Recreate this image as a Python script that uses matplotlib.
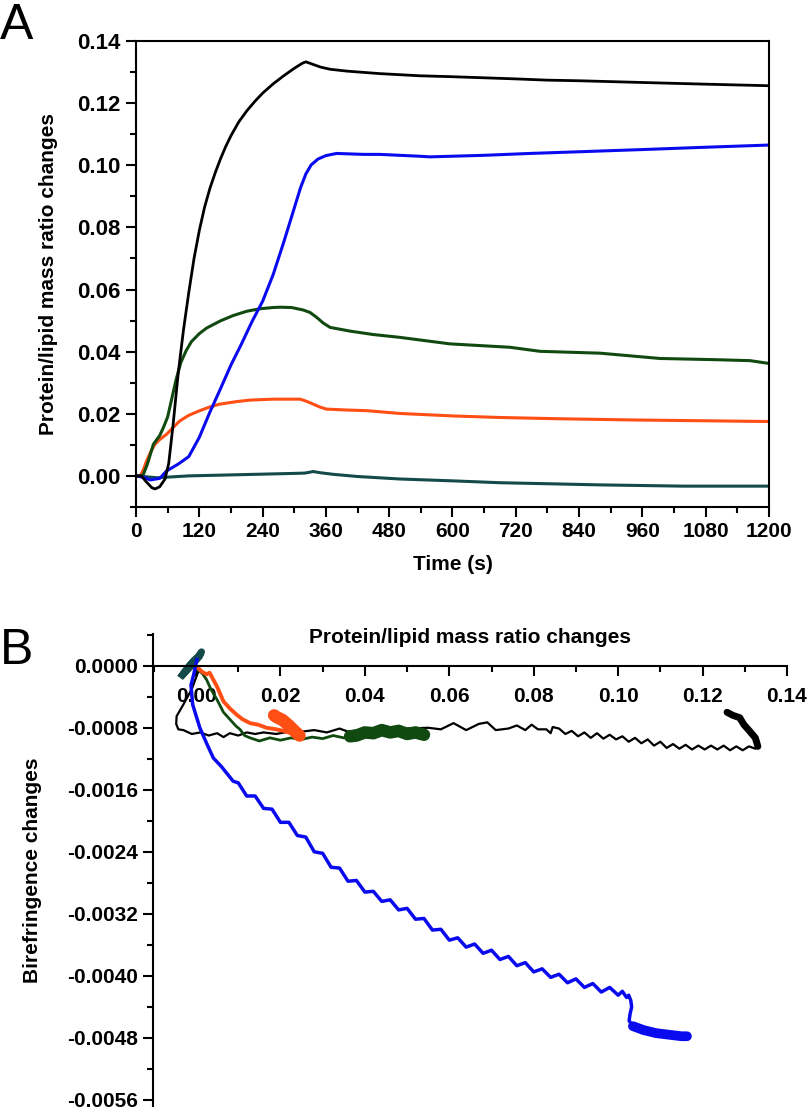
import matplotlib
matplotlib.use('Agg')
import matplotlib.pyplot as plt
from matplotlib.ticker import MultipleLocator, FormatStrFormatter

plt.rcParams['font.family'] = ['Liberation Sans', 'DejaVu Sans']
plt.rcParams['font.weight'] = 'bold'
plt.rcParams['axes.unicode_minus'] = False
Fontsize = 15

# ---- panel A: mass ratio vs time ----
black_t = [0, 10, 20, 30, 36, 45, 55, 62, 70, 80, 90, 100, 110, 120, 130, 140, 150, 160, 170, 180, 195, 210,
           225, 240, 260, 280, 300, 315, 322, 335, 350, 368, 400, 462, 538, 600, 720, 779, 840, 969, 1080, 1200]
black_v = [0, 0, -0.002, -0.0038, -0.0042, -0.0035, -0.001, 0.004, 0.016, 0.033, 0.047, 0.059, 0.070, 0.079,
           0.0865, 0.0925, 0.0975, 0.102, 0.106, 0.1095, 0.114, 0.1175, 0.1205, 0.1232, 0.1262, 0.1288,
           0.1312, 0.1328, 0.1333, 0.1325, 0.1316, 0.1309, 0.1303, 0.1295, 0.1288, 0.1285, 0.1278, 0.1274,
           0.1272, 0.1266, 0.1261, 0.1256]

blue_t = [0, 15, 27, 45, 58, 80, 100, 120, 140, 160, 180, 200, 220, 240, 260, 280, 300, 312, 322, 332, 345,
          360, 380, 431, 462, 538, 557, 660, 747, 850, 968, 1080, 1200]
blue_v = [0, -0.0005, -0.0013, -0.0008, 0.0016, 0.0038, 0.0062, 0.0124, 0.0205, 0.028, 0.0357, 0.0425,
          0.0497, 0.0562, 0.0648, 0.0752, 0.0862, 0.0928, 0.0972, 0.1001, 0.102, 0.1031, 0.1038, 0.1035,
          0.1035, 0.1029, 0.1027, 0.1032, 0.1038, 0.1044, 0.1051, 0.1058, 0.1065]

green_t = [0, 10, 14, 22, 33, 45, 52, 60, 68, 76, 85, 95, 105, 120, 134, 160, 184, 210, 235, 260, 273, 295,
           317, 330, 342, 355, 368, 406, 450, 500, 595, 709, 766, 880, 993, 1100, 1164, 1200]
green_v = [0, 0, 0.0005, 0.004, 0.0102, 0.013, 0.0156, 0.019, 0.025, 0.031, 0.0365, 0.0403, 0.0432, 0.0458,
           0.0476, 0.0499, 0.0516, 0.053, 0.0538, 0.0542, 0.0543, 0.0542, 0.0534, 0.0526, 0.0511, 0.0492,
           0.0478, 0.0466, 0.0455, 0.0446, 0.0425, 0.0414, 0.0401, 0.0395, 0.0378, 0.0374, 0.0371, 0.0362]

orange_t = [0, 8, 14, 20, 28, 36, 45, 58, 70, 83, 100, 121, 140, 159, 190, 216, 260, 300, 311, 322, 336,
            348, 361, 400, 437, 500, 600, 690, 800, 943, 1100, 1200]
orange_v = [0, 0, 0.002, 0.0048, 0.0078, 0.0102, 0.0117, 0.0134, 0.0155, 0.0177, 0.0195, 0.021, 0.0222,
            0.0231, 0.0239, 0.0244, 0.0247, 0.0247, 0.0247, 0.0241, 0.0231, 0.0222, 0.0215, 0.0212, 0.021,
            0.0201, 0.0193, 0.0188, 0.0184, 0.018, 0.0177, 0.0175]

teal_t = [0, 20, 40, 60, 100, 150, 200, 250, 300, 320, 336, 350, 374, 420, 460, 500, 600, 690, 800, 880,
          1037, 1100, 1200]
teal_v = [0, -0.0003, -0.0006, -0.0004, 0, 0.0002, 0.0004, 0.0006, 0.0008, 0.0009, 0.0014, 0.001, 0.0005,
          -0.0002, -0.0006, -0.001, -0.0016, -0.0022, -0.0026, -0.0029, -0.0033, -0.0033, -0.0033]

# ---- panel B: birefringence vs mass ratio ----
black_bx = [0.0005, -0.001, -0.003, -0.0046, -0.0047, -0.0042, -0.003, -0.001, 0.001, 0.003, 0.005, 0.0065,
            0.008, 0.010, 0.012, 0.014, 0.016, 0.019, 0.022, 0.025, 0.028, 0.031, 0.034, 0.036, 0.040, 0.045,
            0.050, 0.055, 0.058, 0.061, 0.064, 0.067, 0.069, 0.071, 0.074, 0.076, 0.078, 0.0795, 0.081, 0.083,
            0.084, 0.0845, 0.0860, 0.0875, 0.0890, 0.0905, 0.0920, 0.0935, 0.0950, 0.0965, 0.0980, 0.0995,
            0.1010, 0.1025, 0.1040, 0.1055, 0.1070, 0.1085, 0.1100, 0.1115, 0.1130, 0.1145, 0.1160, 0.1175,
            0.1190, 0.1205, 0.1220, 0.1235, 0.1250, 0.1265, 0.1280, 0.1295, 0.1310, 0.1325, 0.1331]
black_by = [-0.00008, -0.0003, -0.0005, -0.00065, -0.00075, -0.00082, -0.00083, -0.00088, -0.00086, -0.0009,
            -0.00087, -0.00092, -0.00087, -0.0009, -0.00086, -0.00088, -0.00086, -0.00088, -0.00085,
            -0.00085, -0.00083, -0.00086, -0.00081, -0.00085, -0.00082, -0.00083, -0.00081, -0.0008,
            -0.00082, -0.00074, -0.00083, -0.00075, -0.00073, -0.00083, -0.00081, -0.00077, -0.00083,
            -0.00076, -0.00082, -0.00082, -0.00087, -0.00079, -0.00081, -0.00088, -0.00084, -0.00091,
            -0.00086, -0.00093, -0.00087, -0.00094, -0.00089, -0.00095, -0.00091, -0.00098, -0.00093,
            -0.00100, -0.00095, -0.00103, -0.00098, -0.00106, -0.00101, -0.00107, -0.00102, -0.00108,
            -0.00103, -0.00108, -0.00103, -0.00108, -0.00103, -0.00109, -0.00104, -0.00109, -0.00104,
            -0.00107, -0.00104]
black_hook_x = [0.1331, 0.1325, 0.1311, 0.1298, 0.1288, 0.1272, 0.1258]
black_hook_y = [-0.00104, -0.00093, -0.00084, -0.00076, -0.00067, -0.00064, -0.00060]

green_bx = [0.0, 0.0015, 0.0025, 0.0035, 0.0049, 0.0065, 0.008, 0.0095, 0.0104, 0.0115, 0.0128, 0.015,
            0.0175, 0.020, 0.0225, 0.025, 0.0275, 0.030, 0.0325, 0.035, 0.038, 0.041, 0.044, 0.047, 0.050,
            0.054]
green_by = [-0.00003, -0.0001, -0.00018, -0.0003, -0.00043, -0.0006, -0.00069, -0.00078, -0.00082, -0.0009,
            -0.00093, -0.00097, -0.00093, -0.00096, -0.00093, -0.00095, -0.00092, -0.00094, -0.0009,
            -0.00093, -0.00089, -0.00088, -0.00086, -0.00085, -0.00086, -0.00088]
green_back_x = [0.054, 0.052, 0.050, 0.048, 0.046, 0.044, 0.042, 0.040, 0.038, 0.0365]
green_back_y = [-0.00089, -0.00086, -0.00088, -0.00084, -0.00086, -0.00083, -0.00087, -0.00086, -0.00090,
                -0.00091]

orange_bx = [0.0005, 0.0015, 0.0025, 0.0032, 0.004, 0.0049, 0.0057, 0.0065, 0.008, 0.0096, 0.011, 0.0128,
             0.0147, 0.0167, 0.019, 0.0207, 0.0225, 0.0238, 0.0247]
orange_by = [-0.00003, -0.00008, -0.00011, -0.00009, -0.00017, -0.00026, -0.00036, -0.00046, -0.00055,
             -0.00063, -0.00069, -0.00074, -0.00076, -0.0008, -0.00082, -0.00084, -0.00087, -0.00091,
             -0.00092]
orange_back_x = [0.0245, 0.0235, 0.022, 0.0205, 0.019, 0.0185]
orange_back_y = [-0.00090, -0.00085, -0.00077, -0.00070, -0.00066, -0.00064]

teal_bx = [-0.0033, -0.0025, -0.0015, -0.0005, 0.0005, 0.0013, 0.0008, -0.0005, -0.0018, -0.0030]
teal_by = [-0.00012, -0.00006, 0.00001, 0.00007, 0.00012, 0.00018, 0.00012, 0.00004, -0.00004, -0.00011]

blue_bx = [0.0002, -0.0005, -0.0012, -0.0008, 0.0009, 0.0025, 0.0041, 0.006, 0.0088, 0.010, 0.012, 0.014,
           0.016, 0.018, 0.020, 0.022, 0.024, 0.026, 0.028, 0.030, 0.032, 0.034, 0.036, 0.038, 0.040, 0.042,
           0.044, 0.046, 0.048, 0.050, 0.052, 0.054, 0.056, 0.058, 0.060, 0.062, 0.064, 0.066, 0.068, 0.070,
           0.072, 0.074, 0.076, 0.078, 0.080, 0.082, 0.084, 0.086, 0.088, 0.090, 0.092, 0.094, 0.096, 0.098,
           0.100, 0.101, 0.102, 0.1025, 0.1030, 0.1032, 0.1028, 0.1026, 0.1035]
blue_by = [0.00008, -0.0001, -0.00025, -0.0005, -0.0008, -0.001, -0.00119, -0.0013, -0.00149, -0.00151,
           -0.00168, -0.00168, -0.00184, -0.00185, -0.00202, -0.00202, -0.00219, -0.00221, -0.00240,
           -0.00242, -0.00260, -0.00261, -0.00278, -0.00277, -0.00292, -0.00291, -0.00304, -0.00302,
           -0.00315, -0.00313, -0.00327, -0.00326, -0.00341, -0.00340, -0.00354, -0.00351, -0.00363,
           -0.00359, -0.00371, -0.00367, -0.00379, -0.00375, -0.00387, -0.00383, -0.00395, -0.00391,
           -0.00402, -0.00398, -0.00409, -0.00404, -0.00415, -0.00410, -0.00421, -0.00415, -0.00425,
           -0.00420, -0.00428, -0.00425, -0.00432, -0.00440, -0.00450, -0.00458, -0.00465]
blue_end_x = [0.1035, 0.106, 0.109, 0.112, 0.115, 0.1163]
blue_end_y = [-0.00465, -0.00470, -0.00474, -0.00476, -0.00478, -0.00478]

c_black = '#000000'
c_blue = '#0A0AEE'
c_green = '#114A11'
c_orange = '#FF4F14'
c_teal = '#154A4A'

fig = plt.figure(figsize=(8.12, 11.11), dpi=100)

# Panel A
axA = fig.add_axes([0.1675, 0.5437, 0.7795, 0.4194])
axA.plot(teal_t, teal_v, color=c_teal, lw=2.2)
axA.plot(orange_t, orange_v, color=c_orange, lw=2.2)
axA.plot(green_t, green_v, color=c_green, lw=2.2)
axA.plot(blue_t, blue_v, color=c_blue, lw=2.2)
axA.plot(black_t, black_v, color=c_black, lw=2.0)

axA.set_xlim(0, 1200)
axA.set_ylim(-0.01, 0.14)
axA.xaxis.set_major_locator(MultipleLocator(120))
axA.xaxis.set_minor_locator(MultipleLocator(60))
axA.yaxis.set_major_locator(MultipleLocator(0.02))
axA.yaxis.set_minor_locator(MultipleLocator(0.01))
axA.yaxis.set_major_formatter(FormatStrFormatter('%.2f'))
axA.tick_params(which='major', direction='out', length=7, width=1.5, labelsize=Fontsize, pad=4)
axA.tick_params(axis='y', which='major', labelsize=16)
axA.tick_params(which='minor', direction='out', length=4, width=1.5)
for sp in axA.spines.values():
    sp.set_linewidth(1.5)
axA.set_xlabel('Time (s)', fontsize=Fontsize, fontweight='bold', labelpad=10)
axA.set_ylabel('Protein/lipid mass ratio changes', fontsize=Fontsize, fontweight='bold', labelpad=14)

# Panel B
axB = fig.add_axes([0.1884, 1 - 1106 / 1111, 0.7808, 472 / 1111])
axB.plot(black_bx, black_by, color=c_black, lw=1.6)
axB.plot(black_hook_x, black_hook_y, color=c_black, lw=5, solid_capstyle='round')
axB.plot(green_bx, green_by, color=c_green, lw=2.0)
axB.plot(green_back_x, green_back_y, color=c_green, lw=9, solid_capstyle='round')
axB.plot(orange_bx, orange_by, color=c_orange, lw=2.8)
axB.plot(orange_back_x, orange_back_y, color=c_orange, lw=9, solid_capstyle='round')
axB.plot(teal_bx, teal_by, color=c_teal, lw=5)
axB.plot(blue_bx, blue_by, color=c_blue, lw=2.5)
axB.plot(blue_end_x, blue_end_y, color=c_blue, lw=7, solid_capstyle='round')

axB.set_xlim(-0.0102, 0.14)
axB.set_ylim(-0.00568, 0.00041)
axB.spines['top'].set_visible(False)
axB.spines['right'].set_visible(False)
axB.spines['bottom'].set_position(('data', 0))
for sp in axB.spines.values():
    sp.set_linewidth(1.5)
axB.set_xticks([0.00, 0.02, 0.04, 0.06, 0.08, 0.10, 0.12, 0.14])
axB.xaxis.set_minor_locator(MultipleLocator(0.01))
axB.xaxis.set_major_formatter(FormatStrFormatter('%.2f'))
axB.set_yticks([0.0, -0.0008, -0.0016, -0.0024, -0.0032, -0.0040, -0.0048, -0.0056])
axB.yaxis.set_minor_locator(MultipleLocator(0.0004))
axB.yaxis.set_major_formatter(FormatStrFormatter('%.4f'))
axB.tick_params(which='major', direction='out', length=7, width=1.5, labelsize=Fontsize)
axB.tick_params(axis='x', which='major', pad=8)
axB.tick_params(which='minor', direction='out', length=4, width=1.5)
axB.text(0.5, 0.992, 'Protein/lipid mass ratio changes', transform=axB.transAxes,
         ha='center', va='center', fontsize=Fontsize, fontweight='bold')
axB.set_ylabel('Birefringence changes', fontsize=Fontsize, fontweight='bold', labelpad=18)

fig.text(0.0, 0.997, 'A', fontsize=36, fontweight='normal', ha='left', va='top')
fig.text(0.0, 1 - 628 / 1111, 'B', fontsize=36, fontweight='normal', ha='left', va='top')

plt.savefig('out.png', dpi=100)
